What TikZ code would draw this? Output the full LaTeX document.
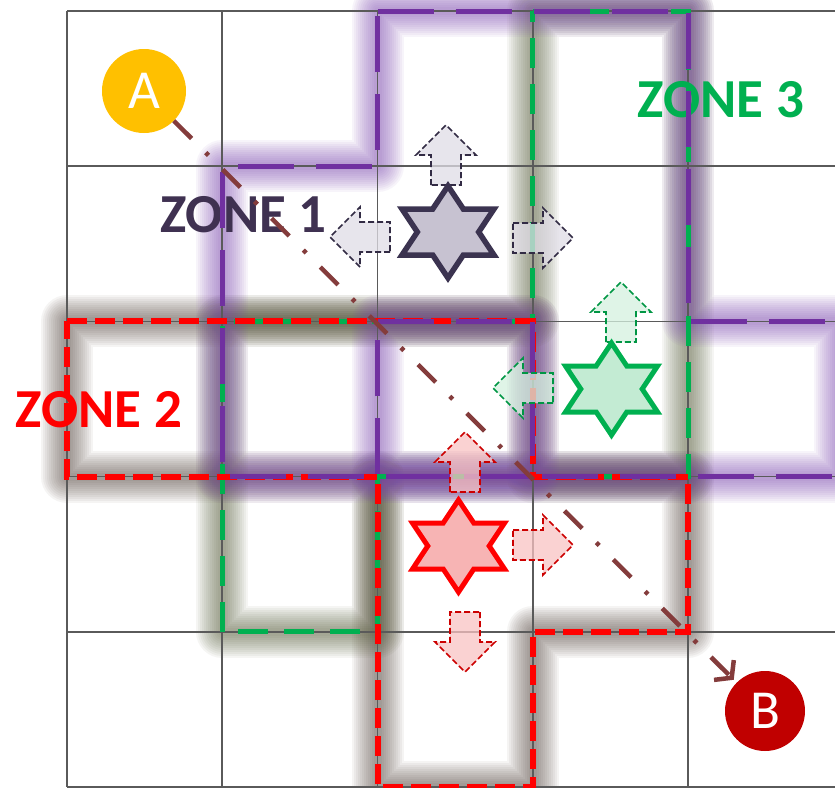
\documentclass[tikz,border=0pt]{standalone}
\usepackage{fontspec}
\setmainfont{Carlito}
\usetikzlibrary{arrows.meta}

\definecolor{zpurple}{HTML}{7030A0}
\definecolor{zgreen}{HTML}{00B050}
\definecolor{zred}{HTML}{FF0000}
\definecolor{zonenavy}{HTML}{3F3151}
\definecolor{glowpurple}{HTML}{7A44B0}
\definecolor{glowbrown}{HTML}{4A3C34}
\definecolor{glowolive}{HTML}{4F5530}
\definecolor{gridgray}{HTML}{5A5A5A}
\definecolor{routebrown}{HTML}{843C3C}
\definecolor{agold}{HTML}{FFC000}
\definecolor{bred}{HTML}{C00000}
\definecolor{stargrayfill}{HTML}{C7C2D1}
\definecolor{stargrayline}{HTML}{3B3350}
\definecolor{stargreenfill}{HTML}{C3EBD3}
\definecolor{starredfill}{HTML}{F7B4B4}

% zone outlines on the grid (cell size 155.25 x 155.2)
\newcommand\ZoneOnePath{(377.5,11) -- (688,11) -- (688,321.4) -- (840,321.4) -- (840,476.6) -- (222.25,476.6) -- (222.25,166.2) -- (377.5,166.2) -- cycle}
\newcommand\ZoneOneCell{(377.5,321.4) -- (532.75,321.4) -- (532.75,476.6) -- (377.5,476.6) -- cycle}
\newcommand\ZoneTwoPath{(67,321.4) -- (532.75,321.4) -- (532.75,476.6) -- (688,476.6) -- (688,631.8) -- (532.75,631.8) -- (532.75,787) -- (377.5,787) -- (377.5,476.6) -- (67,476.6) -- cycle}
\newcommand\ZoneThreePath{(532.75,11) -- (688,11) -- (688,476.6) -- (377.5,476.6) -- (377.5,631.8) -- (222.25,631.8) -- (222.25,321.4) -- (532.75,321.4) -- cycle}

% soft halo under a zone outline: many thin-opacity strokes of shrinking width
\newcommand\GlowPath[2]{%
  \foreach \w in {52,48,...,8}{%
    \draw[line width=\w pt, draw=#1, draw opacity=0.055, line join=round] #2;}}

\tikzset{
  gridline/.style={draw=gridgray, line width=1.6pt},
  zoneone/.style={draw=zpurple, line width=5pt, dash pattern=on 56pt off 22pt},
  zonetwo/.style={draw=zred, line width=6pt, dash pattern=on 20pt off 8pt},
  zonethree/.style={draw=zgreen, line width=5pt, dash pattern=on 30pt off 16pt},
  zonelabel/.style={anchor=base, inner sep=0pt, font=\bfseries\fontsize{55}{55}\selectfont},
  endpoint/.style={circle, inner sep=0pt, text=white, font=\fontsize{55}{55}\selectfont},
  route/.style={draw=routebrown, line width=4.5pt, dash pattern=on 25pt off 20pt on 4pt off 20pt,
    -{Straight Barb[length=11pt,width=28pt]}, shorten >=4pt},
  grayarrow/.style={draw=stargrayline!85!black, line width=1.7pt, dash pattern=on 6pt off 3pt,
    fill=stargrayfill!55!white, fill opacity=0.75},
  greenarrow/.style={draw=zgreen!85!black, line width=1.7pt, dash pattern=on 6pt off 3pt,
    fill=stargreenfill!70!white, fill opacity=0.75},
  redarrow/.style={draw=zred!80!black, line width=1.7pt, dash pattern=on 6pt off 3pt,
    fill=starredfill!80!white, fill opacity=0.75},
  graystar/.style={draw=stargrayline, fill=stargrayfill, line width=5.5pt, line join=miter},
  greenstar/.style={draw=zgreen, fill=stargreenfill, line width=5pt, line join=miter},
  redstar/.style={draw=zred, fill=starredfill, line width=5pt, line join=miter},
  pics/hexstar/.style={code={
    \draw[#1] (0,-46) -- (15.3,-23) -- (46,-23) -- (30.7,0) -- (46,23) -- (15.3,23)
      -- (0,46) -- (-15.3,23) -- (-46,23) -- (-30.7,0) -- (-46,-23) -- (-15.3,-23) -- cycle;}},
  pics/blockarrow/.style={code={
    \draw[#1] (0,-15) -- (30,-15) -- (30,-30) -- (60,0) -- (30,30) -- (30,15) -- (0,15) -- cycle;}}
}

\begin{document}
\begin{tikzpicture}[x=1pt,y=-1pt]
\useasboundingbox (0,0) rectangle (835,787);
\fill[white] (0,0) rectangle (835,787);

% halos
\GlowPath{glowbrown}{\ZoneTwoPath}
\GlowPath{glowolive}{\ZoneThreePath}
\GlowPath{glowpurple}{\ZoneOnePath}
\GlowPath{glowpurple}{\ZoneOneCell}

% grid
\foreach \c in {0,...,4}
  \draw[gridline] (67+155.25*\c,11) -- (67+155.25*\c,787);
\foreach \r in {0,...,5}
  \draw[gridline] (67,11+155.2*\r) -- (835,11+155.2*\r);

% zone names
\node[zonelabel, text=zonenavy] (z1) at (243.5,232) {ZONE 1};
\node[zonelabel, text=zred] (z2) at (99,427) {ZONE 2};
\node[zonelabel, text=zgreen] (z3) at (721,117) {ZONE 3};

% zone outlines
\draw[zonethree] \ZoneThreePath;
\draw[zonetwo] \ZoneTwoPath;
\draw[zoneone] \ZoneOnePath;
\draw[zoneone] \ZoneOneCell;

% end points and route
\node[endpoint, fill=agold, minimum size=84pt] (A) at (144,91) {A};
\node[endpoint, fill=bred, minimum size=80pt] (B) at (765,711) {B};
\draw[route] (A) -- (B);

% movement arrows
\pic[rotate=90]  (gup)    at (446,185) {blockarrow=grayarrow};
\pic[rotate=180] (gleft)  at (390,237) {blockarrow=grayarrow};
\pic             (gright) at (513,238) {blockarrow=grayarrow};
\pic[rotate=90]  (nup)    at (621,342) {blockarrow=greenarrow};
\pic[rotate=180] (nleft)  at (553,388) {blockarrow=greenarrow};
\pic[rotate=90]  (rup)    at (465,492) {blockarrow=redarrow};
\pic             (rright) at (513,545) {blockarrow=redarrow};
\pic[rotate=-90] (rdown)  at (465,612) {blockarrow=redarrow};

% zone stars
\pic (sgray)  at (448,232)   {hexstar=graystar};
\pic (sgreen) at (611.5,389) {hexstar=greenstar};
\pic (sred)   at (458.5,546) {hexstar=redstar};
\end{tikzpicture}
\end{document}
